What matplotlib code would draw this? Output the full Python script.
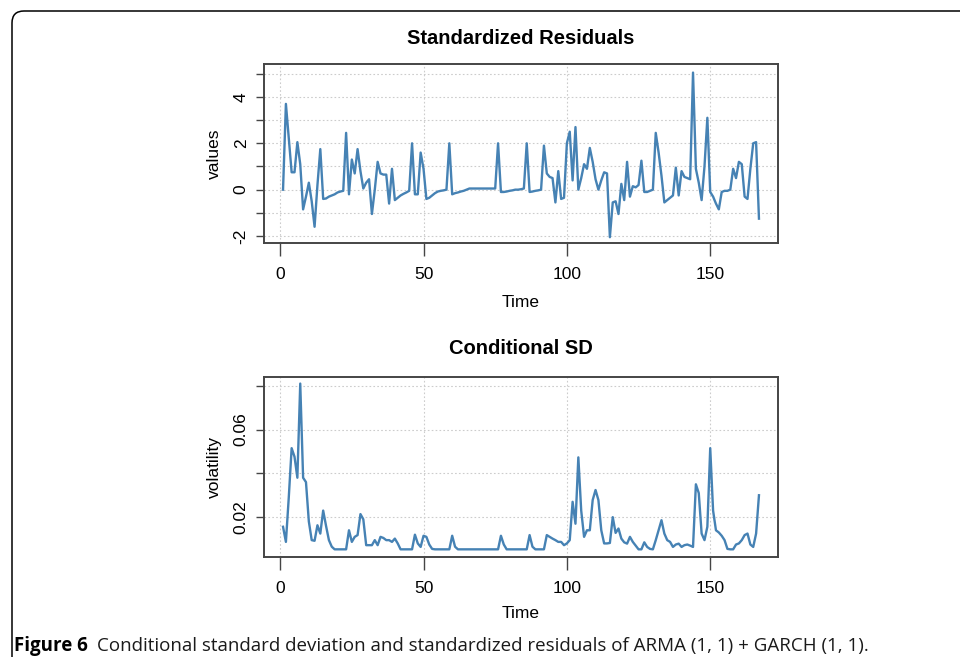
import matplotlib
matplotlib.use('Agg')
import matplotlib.pyplot as plt
import numpy as np
from matplotlib.patches import FancyBboxPatch

###############################################################
## data (t = 1 .. 167)
###############################################################

time = np.arange(1, 168)

std_resid = [
    0.0, 3.7, 2.2, 0.75, 0.75, 2.05, 1.1, -0.85, -0.3, 0.3,
    -0.5, -1.6, 0.2, 1.75, -0.4, -0.38, -0.3, -0.25, -0.2, -0.12,
    -0.08, -0.05, 2.45, -0.2, 1.3, 0.7, 1.75, 0.8, 0.05, 0.3,
    0.45, -1.05, 0.0, 1.2, 0.7, 0.65, 0.65, -0.6, 0.9, -0.45,
    -0.35, -0.25, -0.18, -0.12, -0.05, 2.0, -0.2, -0.2, 1.6, 0.9,
    -0.4, -0.35, -0.25, -0.15, -0.08, -0.05, -0.03, 0.0, 2.0, -0.2,
    -0.15, -0.12, -0.08, -0.05, 0.0, 0.05, 0.05, 0.05, 0.05, 0.05,
    0.05, 0.05, 0.05, 0.05, 0.05, 2.0, -0.1, -0.1, -0.08, -0.05,
    -0.03, 0.0, 0.0, 0.02, 0.05, 2.0, -0.1, -0.08, -0.05, -0.03,
    0.0, 1.9, 0.7, 0.55, 0.5, -0.55, 0.8, -0.4, -0.35, 2.0,
    2.5, 0.4, 2.7, 0.0, 0.5, 1.1, 0.9, 1.8, 1.2, 0.45,
    0.0, 0.4, 0.75, 0.7, -2.05, -0.55, -0.5, -1.05, 0.25, -0.45,
    1.2, -0.3, 0.15, 0.1, 0.2, 1.25, -0.1, -0.1, -0.05, 0.0,
    2.45, 1.6, 0.6, -0.55, -0.45, -0.35, -0.25, 0.95, -0.25, 0.8,
    0.55, 0.5, 0.45, 5.05, 0.9, 0.3, -0.45, 1.0, 3.1, -0.1,
    -0.3, -0.6, -0.85, -0.1, -0.05, -0.05, 0.0, 0.9, 0.5, 1.2,
    1.1, -0.3, -0.4, 0.9, 2.0, 2.05, -1.25,
]

cond_sd = [
    0.0156, 0.0087, 0.029, 0.0515, 0.0476, 0.038, 0.081, 0.038, 0.036, 0.018,
    0.0095, 0.0092, 0.0163, 0.0125, 0.023, 0.016, 0.0095, 0.0065, 0.0053, 0.0053,
    0.0053, 0.0053, 0.0053, 0.014, 0.0087, 0.011, 0.0118, 0.0214, 0.019, 0.0072,
    0.0072, 0.0072, 0.0095, 0.0072, 0.011, 0.0105, 0.0095, 0.0095, 0.0087, 0.0102,
    0.008, 0.0053, 0.0053, 0.0053, 0.0053, 0.0053, 0.012, 0.008, 0.0064, 0.0115,
    0.011, 0.0075, 0.0055, 0.0053, 0.0053, 0.0053, 0.0053, 0.0053, 0.0053, 0.0115,
    0.0065, 0.0053, 0.0053, 0.0053, 0.0053, 0.0053, 0.0053, 0.0053, 0.0053, 0.0053,
    0.0053, 0.0053, 0.0053, 0.0053, 0.0053, 0.0053, 0.0115, 0.0075, 0.0053, 0.0053,
    0.0053, 0.0053, 0.0053, 0.0053, 0.0053, 0.0053, 0.0118, 0.0065, 0.0053, 0.0053,
    0.0053, 0.0053, 0.0118, 0.011, 0.0102, 0.0095, 0.0087, 0.0087, 0.0072, 0.008,
    0.0095, 0.027, 0.017, 0.0473, 0.023, 0.011, 0.014, 0.014, 0.0278, 0.0324,
    0.0278, 0.014, 0.008, 0.008, 0.0082, 0.02, 0.0128, 0.0148, 0.0102, 0.0085,
    0.0079, 0.011, 0.0087, 0.007, 0.0053, 0.0053, 0.0085, 0.0064, 0.0055, 0.0053,
    0.0095, 0.014, 0.0186, 0.0125, 0.0095, 0.0087, 0.0064, 0.0075, 0.0079, 0.0064,
    0.0072, 0.0075, 0.007, 0.0064, 0.035, 0.031, 0.0125, 0.0095, 0.0156, 0.0515,
    0.023, 0.014, 0.013, 0.0115, 0.0095, 0.0055, 0.0053, 0.0053, 0.0075, 0.008,
    0.0095, 0.0118, 0.0125, 0.0075, 0.0064, 0.0125, 0.030,
]

x_ticks = [0, 50, 100, 150]
resid_ticks = [-2, -1, 0, 1, 2, 3, 4, 5]
resid_labels = ['-2', '', '0', '', '2', '', '4', '']
sd_ticks = [0.02, 0.04, 0.06, 0.08]
sd_labels = ['0.02', '', '0.06', '']

caption_bold = 'Figure 6'
caption_text = 'Conditional standard deviation and standardized residuals of ARMA (1, 1) + GARCH (1, 1).'

###############################################################
## figure
###############################################################

plt.rcParams['font.family'] = ['Liberation Sans', 'DejaVu Sans']

W, H = 960, 657
line_col = '#4682B4'
grid_col = '#cccccc'
box_col = '#454545'

fig = plt.figure(figsize=(W / 100, H / 100), dpi=100)


def px(x, y):
    # pixel position (from top-left) -> figure fraction
    return x / W, 1 - y / H


def panel(top, bottom, values, ticks, labels, ylim, title, ylabel, title_y, label_y):
    ax = fig.add_axes([264 / W, 1 - bottom / H, 514 / W, (bottom - top) / H])
    ax.plot(time, values, color=line_col, lw=1.7, zorder=3)
    ax.set_xlim(1 - 0.04 * 166, 167 + 0.04 * 166)
    ax.set_ylim(*ylim)
    ax.set_xticks(x_ticks)
    ax.set_yticks(ticks)
    ax.set_yticklabels(labels, rotation=90, va='center')
    ax.grid(True, color=grid_col, linestyle=(0, (1.5, 2)), lw=0.8, zorder=0)
    for s in ax.spines.values():
        s.set_color(box_col)
        s.set_linewidth(1.4)
    ax.tick_params(axis='x', length=9, width=1, color=box_col, pad=8, labelsize=12.5)
    ax.tick_params(axis='y', length=6, width=1, color=box_col, pad=5, labelsize=12.5)
    fig.text(*px(521, title_y), title, fontsize=14.5, fontweight='bold', ha='center', va='center')
    fig.text(*px(521, label_y), 'Time', fontsize=12.5, ha='center', va='center')
    fig.text(*px(214, (top + bottom) / 2), ylabel, fontsize=12.5, rotation=90, ha='center', va='center')
    return ax


ax_res = panel(64, 243, std_resid, resid_ticks, resid_labels, (-2.3, 5.42),
               'Standardized Residuals', 'values', 38, 303)
ax_sd = panel(377, 557, cond_sd, sd_ticks, sd_labels, (0.0018, 0.084),
              'Conditional SD', 'volatility', 349, 613)

# frame of the journal figure box
frame = FancyBboxPatch((12, -40), 1100, H - 11 + 40, boxstyle='round,pad=0,rounding_size=12',
                       transform=None, fill=False, ec='black', lw=1.1)
fig.patches.append(frame)

# caption
cap_font = ['Open Sans', 'DejaVu Sans']
t1 = fig.text(*px(14, 646), caption_bold, fontsize=13.5, fontweight='bold', family=cap_font,
              ha='left', va='center')
fig.canvas.draw()
bb = t1.get_window_extent()
fig.text((bb.x1 + 9) / W, 1 - 646 / H, caption_text, fontsize=13.5, family=cap_font,
         ha='left', va='center', color='#1a1a1a')

plt.savefig('out.png', dpi=100)
